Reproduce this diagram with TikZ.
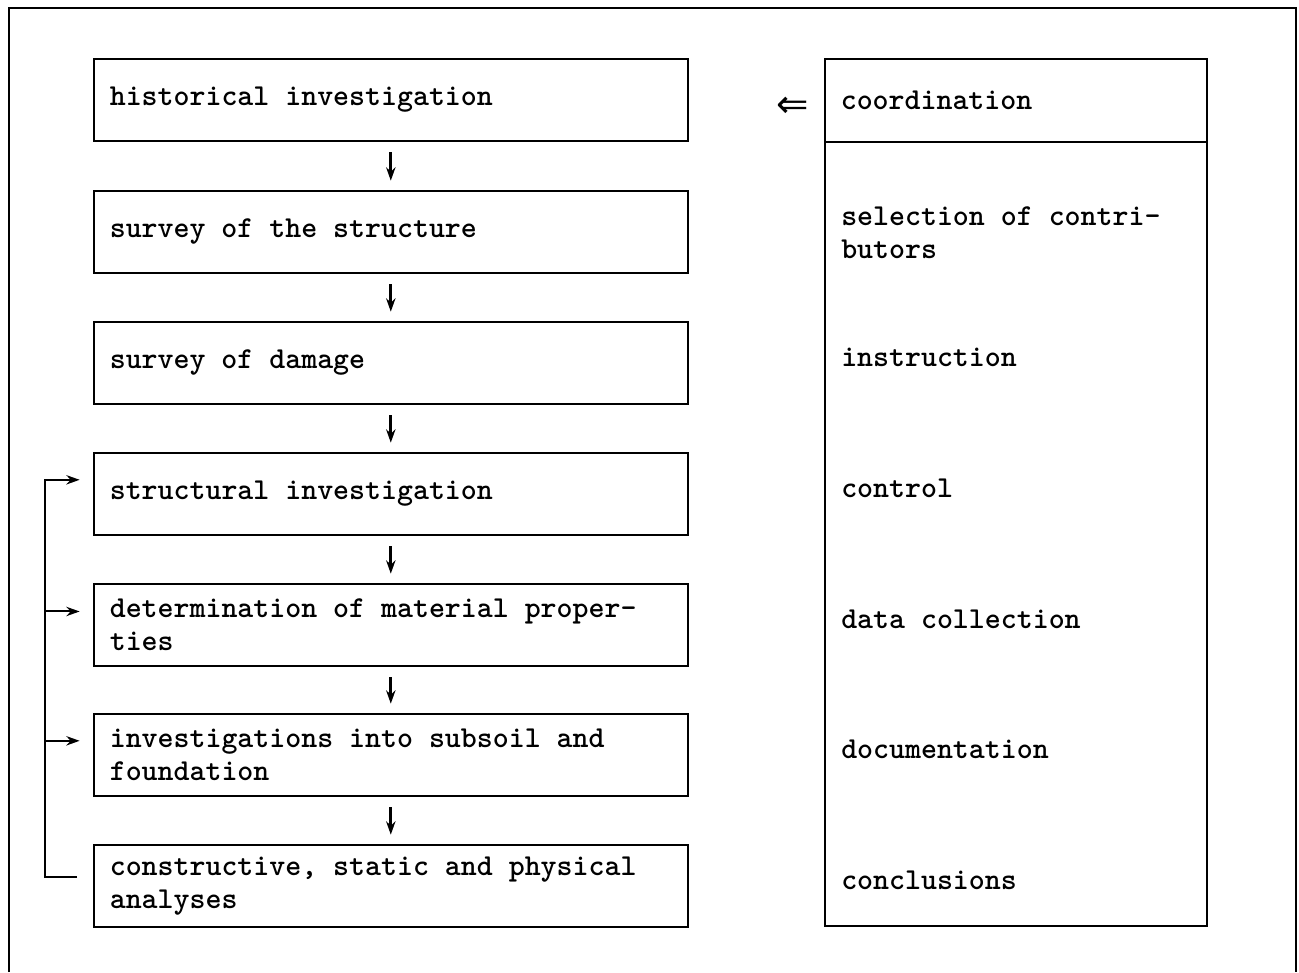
\documentclass[tikz,border=0pt]{standalone}
\usepackage{fontspec}
\newfontfamily\djv{DejaVu Sans}
\usetikzlibrary{arrows.meta}
\begin{document}
\begin{tikzpicture}[x=0.75pt,y=-0.75pt,
 every node/.style={font=\ttfamily\bfseries\fontsize{22.8}{24.75}\selectfont},
 stepbox/.style={draw, line width=1.2pt, minimum width=445.5pt, minimum height=61.5pt,
   text width=421.5pt, inner xsep=12pt, inner ysep=0pt, align=flush left, anchor=north west},
 flow/.style={-{Stealth[length=10pt,width=7pt]}, line width=2pt},
 lbl/.style={anchor=west, inner sep=0pt, align=flush left},
 dblarrow/.style={inner sep=0pt, font=\djv\fontsize{29}{29}\selectfont}]
\useasboundingbox (0,0) rectangle (1299,972);
\draw[line width=1.5pt] (9,972) -- (9,8) -- (1296,8) -- (1296,972);
% left column
\node[stepbox] (b1) at (93,58)  {historical investigation};
\node[stepbox] (b2) at (93,190) {survey of the structure};
\node[stepbox] (b3) at (93,321) {survey of damage};
\node[stepbox] (b4) at (93,452) {structural investigation};
\node[stepbox] (b5) at (93,583) {determination of material proper-\\ties};
\node[stepbox] (b6) at (93,713) {investigations into subsoil and\\foundation};
\node[stepbox] (b7) at (93,844) {constructive, static and physical\\analyses};
\foreach \a/\b in {b1/b2,b2/b3,b3/b4,b4/b5,b5/b6,b6/b7}
  \draw[flow] ([yshift=-8pt]\a.south) -- ([yshift=7pt]\b.north);
% feedback
\coordinate (v) at (45,0);
\coordinate (s7) at ([xshift=-12pt,yshift=6.4pt]b7.west);
\coordinate (t4) at ([xshift=-10pt,yshift=10.5pt]b4.west);
\coordinate (t5) at ([xshift=-10pt,yshift=10pt]b5.west);
\coordinate (t6) at ([xshift=-10pt,yshift=10.5pt]b6.west);
\draw[flow, line width=1.5pt] (s7) -| (v |- t4) -- (t4);
\draw[flow, line width=1.5pt] (v |- t5) -- (t5);
\draw[flow, line width=1.5pt] (v |- t6) -- (t6);
% right column
\node[draw, line width=1.2pt, anchor=north west, minimum width=286.5pt, minimum height=650.25pt, inner sep=0pt] (rb) at (824,58) {};
\node[draw, line width=1.2pt, anchor=north west, minimum width=286.5pt, minimum height=62.25pt,
   text width=262.5pt, inner xsep=12pt, inner ysep=0pt, align=flush left] (co) at (824,58) {coordination\\[6pt]};
\node[lbl] (r1) at (841,233) {selection of contri-\\butors};
\node[lbl] (r2) at (841,357) {instruction};
\node[lbl] (r3) at (841,488) {control};
\node[lbl] (r4) at (841,619) {data collection};
\node[lbl] (r5) at (841,749) {documentation};
\node[lbl] (r6) at (841,880) {conclusions};
\node[dblarrow] (dbl) at (793,107) {⇐};
\end{tikzpicture}
\end{document}
